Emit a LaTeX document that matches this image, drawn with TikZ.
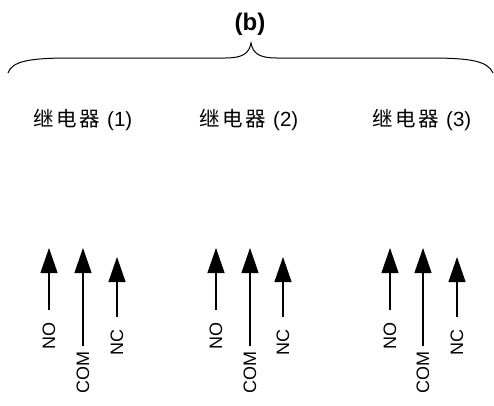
\documentclass[tikz,border=0pt]{standalone}
\usepackage{fontspec}
\setmainfont{Liberation Sans}
\newfontfamily\cjk{Noto Sans CJK SC}[LetterSpace=12]
\usetikzlibrary{arrows.meta}
\tikzset{
  pin/.style={line width=1.1pt, -{Triangle[width=17pt,length=25pt]}},
  pinlbl/.style={rotate=90, inner sep=0pt, font=\fontsize{18}{18}\selectfont},
  relay/.style={inner sep=0pt, font=\fontsize{20.5}{20.5}\selectfont},
  brace/.style={line width=1pt}
}
\begin{document}
\begin{tikzpicture}[x=1pt,y=-1pt]
\useasboundingbox (0,0) rectangle (494,405);
\node[font=\fontsize{24}{24}\selectfont\bfseries, inner sep=0pt] (title) at (250,24) {(b)};
\draw[brace] (8,73) .. controls (12,61) and (30,58) .. (70,58) -- (225,58)
  .. controls (242,58) and (249,54) .. (251,43)
  .. controls (253,54) and (260,58) .. (277,58) -- (430,58)
  .. controls (470,58) and (488,61) .. (493,73);
\node[relay] (r1) at (83,120) {{\cjk 继电器}\hspace{7pt}(1)};
\node[relay] (r2) at (249,120) {{\cjk 继电器}\hspace{7pt}(2)};
\node[relay] (r3) at (422,120) {{\cjk 继电器}\hspace{7pt}(3)};
\foreach \g/\xo/\xc/\xn in {1/49/83/117, 2/216/250/283, 3/390/423/457}{
  \node[pinlbl] (no\g) at (\xo,336) {NO};
  \node[pinlbl] (com\g) at (\xc,372) {COM};
  \node[pinlbl] (nc\g) at (\xn,342) {NC};
  \coordinate (not\g) at (\xo,248);
  \coordinate (comt\g) at (\xc,248);
  \coordinate (nct\g) at (\xn,257);
  \coordinate (nob\g) at (\xo,310);
  \coordinate (comb\g) at (\xc,346);
  \coordinate (ncb\g) at (\xn,317);
  \draw[pin] (nob\g) -- (not\g);
  \draw[pin] (comb\g) -- (comt\g);
  \draw[pin] (ncb\g) -- (nct\g);
}
\end{tikzpicture}
\end{document}
